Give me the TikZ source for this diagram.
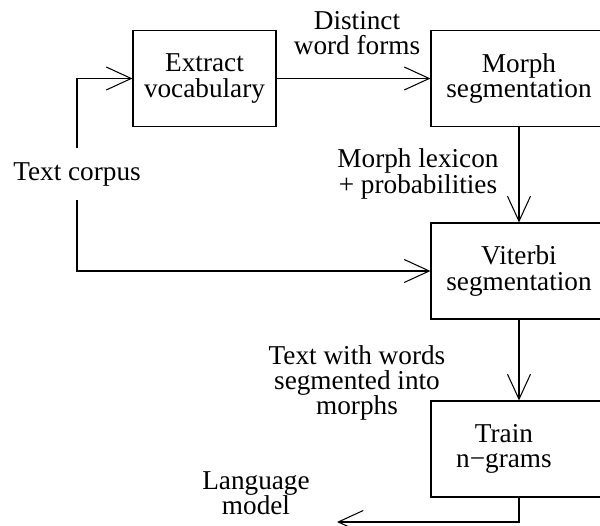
\documentclass[tikz,border=0pt]{standalone}
\usepackage{fontspec}
\setmainfont{Liberation Serif}
\usetikzlibrary{arrows.meta}

\tikzset{
	stepbox/.style={rectangle, draw, line width=0.6pt, minimum height=1.92cm, text centered, align=center, inner sep=0pt},
	lbl/.style={align=center, inner sep=0pt},
	arr/.style={-{Straight Barb[length=0.5cm, width=0.46cm, line width=0.6pt]}, line width=0.6pt}
}

\begin{document}
\begin{tikzpicture}[x=0.02cm, y=-0.02cm, font=\fontsize{15.5pt}{14.4pt}\selectfont]
			
			\useasboundingbox (0,0) rectangle (600,526);
			
			%Nodes
			\node (Extract) at (204.5,78.5) [stepbox, minimum width=2.86cm]{Extract\\vocabulary};
			\node (Morph) at (519,78.5) [stepbox, minimum width=3.52cm]{Morph\\segmentation};
			\node (Viterbi) at (519,271) [stepbox, minimum width=3.52cm]{Viterbi\\segmentation};
			\node (Train) at (519,449) [stepbox, minimum width=3.52cm, 
			label={[lbl, xshift=-0.3cm]center:{Train\\n\textminus grams}}]{};
			\node (Corpus) at (77,174) [lbl, inner xsep=3pt, inner ysep=8pt]{Text corpus};
			
			%Labels
			\node (WordForms) at (357,33) [lbl]{Distinct\\word forms};
			\node (Lexicon) at (418,174) [lbl]{Morph lexicon\\+ probabilities};
			\node (Segmented) at (357,383) [lbl]{Text with words\\segmented into\\morphs};
			\node (LangModel) at (256,493) [lbl]{Language\\model};
			
			\coordinate (ModelEnd) at (337,522);
			
			%Links
			\draw[arr] (Corpus.north) |- (Extract);
			\draw[arr] (Corpus.south) |- (Viterbi);
			\draw[arr] (Extract) -- (Morph);
			\draw[arr] (Morph) -- (Viterbi);
			\draw[arr] (Viterbi) -- (Train);
			\draw[arr] (Train.south) |- (ModelEnd);
			
\end{tikzpicture}
\end{document}
